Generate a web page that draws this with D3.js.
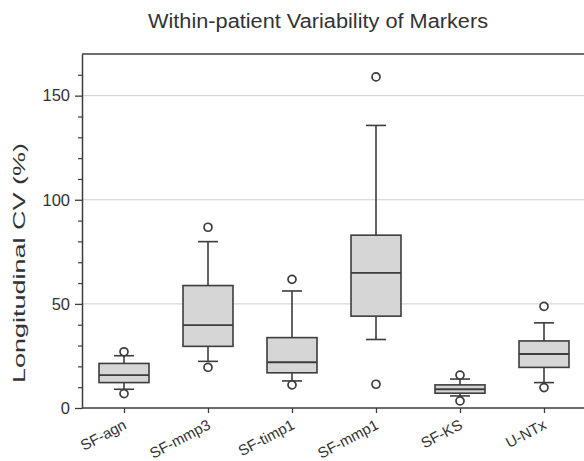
<!DOCTYPE html>
<html>
<head>
<meta charset="utf-8">
<script src="https://cdn.jsdelivr.net/npm/d3@7"></script>
<style>
  html, body { margin: 0; padding: 0; background: #fff; }
  svg { display: block; }
  text { font-family: "Liberation Sans", Arial, sans-serif; fill: #333; }
</style>
</head>
<body>
<svg id="chart" width="584" height="461"></svg>
<script>
// Box-plot summaries per marker (CV, %)
const markers    = ["SF-agn", "SF-mmp3", "SF-timp1", "SF-mmp1", "SF-KS", "U-NTx"];
const q1         = [12.2, 29.6, 16.9, 44.1,  7.1, 19.5];
const medians    = [15.8, 39.8, 22.0, 64.9,  9.0, 25.9];
const q3         = [21.4, 58.8, 33.8, 83.0, 11.1, 32.2];
const whiskerLo  = [ 9.0, 22.4, 13.0, 32.9,  5.8, 12.2];
const whiskerHi  = [25.1, 79.9, 56.2, 135.7, 13.9, 40.9];
const outlierLo  = [ 6.9, 19.5, 11.1, 11.4,  3.4,  9.8];
const outlierHi  = [27.0, 86.8, 61.8, 159.0, 15.8, 48.8];
const majorTicks = [0, 50, 100, 150];
const minorTicks = [10, 20, 30, 40, 60, 70, 80, 90, 110, 120, 130, 140, 160];

const svg = d3.select("#chart");
const margin = { left: 82, right: -2, top: 54, bottom: 53 };
const W = 584, H = 461;
const x0 = margin.left, x1 = W - margin.right;
const y0 = H - margin.bottom, yTop = margin.top;

const x = d3.scalePoint().domain(markers).range([x0, x1]).padding(0.5);
const y = d3.scaleLinear().domain([0, 170]).range([y0, yTop]);

const ink = "#3d3d3d";

// gridlines
svg.append("g").selectAll("line")
  .data(majorTicks.filter(d => d > 0))
  .join("line")
  .attr("x1", x0).attr("x2", x1)
  .attr("y1", d => y(d)).attr("y2", d => y(d))
  .attr("stroke", "#cfcfcf").attr("stroke-width", 1);

// top edge of the frame
svg.append("line").attr("x1", x0).attr("x2", x1).attr("y1", yTop).attr("y2", yTop)
  .attr("stroke", ink).attr("stroke-width", 1.5);

// y axis
const yAxis = svg.append("g").attr("transform", `translate(${x0},0)`)
  .call(d3.axisLeft(y).tickValues(majorTicks).tickSize(7).tickPadding(5).tickSizeOuter(0));
yAxis.select(".domain").attr("stroke", ink).attr("stroke-width", 1.5);
yAxis.selectAll(".tick line").attr("stroke", ink).attr("stroke-width", 1.3);
yAxis.selectAll(".tick text").style("font-size", "16.5px").attr("fill", "#333");
svg.append("g").attr("transform", `translate(${x0},0)`)
  .call(d3.axisLeft(y).tickValues(minorTicks).tickSize(4).tickFormat(""))
  .call(g => g.select(".domain").remove())
  .selectAll(".tick line").attr("stroke", ink).attr("stroke-width", 1.2);

// x axis
const xAxis = svg.append("g").attr("transform", `translate(0,${y0})`)
  .call(d3.axisBottom(x).tickSize(5).tickSizeOuter(0).tickPadding(6));
xAxis.select(".domain").attr("stroke", ink).attr("stroke-width", 1.5)
  .attr("d", `M${x0},0H${x1}`);
xAxis.selectAll(".tick line").attr("stroke", ink).attr("stroke-width", 1.3);
xAxis.selectAll(".tick text")
  .style("font-size", "15px")
  .attr("text-anchor", "end")
  .attr("dy", 0)
  .attr("y", 0).attr("x", 0)
  .attr("transform", "translate(3,20) rotate(-28)");

// boxes
const boxW = 50, capW = 20, r = 4;
const groups = svg.append("g").selectAll("g")
  .data(markers.map((m, i) => ({ m, i })))
  .join("g")
  .attr("transform", d => `translate(${x(d.m)},0)`);

groups.append("line")
  .attr("y1", d => y(whiskerLo[d.i])).attr("y2", d => y(q1[d.i]))
  .attr("stroke", ink).attr("stroke-width", 1.6);
groups.append("line")
  .attr("y1", d => y(q3[d.i])).attr("y2", d => y(whiskerHi[d.i]))
  .attr("stroke", ink).attr("stroke-width", 1.6);
groups.append("line")
  .attr("x1", -capW / 2).attr("x2", capW / 2)
  .attr("y1", d => y(whiskerLo[d.i])).attr("y2", d => y(whiskerLo[d.i]))
  .attr("stroke", ink).attr("stroke-width", 1.6);
groups.append("line")
  .attr("x1", -capW / 2).attr("x2", capW / 2)
  .attr("y1", d => y(whiskerHi[d.i])).attr("y2", d => y(whiskerHi[d.i]))
  .attr("stroke", ink).attr("stroke-width", 1.6);
groups.append("rect")
  .attr("x", -boxW / 2).attr("width", boxW)
  .attr("y", d => y(q3[d.i]))
  .attr("height", d => y(q1[d.i]) - y(q3[d.i]))
  .attr("fill", "#d6d6d6").attr("stroke", ink).attr("stroke-width", 1.6);
groups.append("line")
  .attr("x1", -boxW / 2).attr("x2", boxW / 2)
  .attr("y1", d => y(medians[d.i])).attr("y2", d => y(medians[d.i]))
  .attr("stroke", ink).attr("stroke-width", 1.9);
groups.append("circle")
  .attr("r", r).attr("cy", d => y(outlierLo[d.i]))
  .attr("fill", "#fff").attr("stroke", ink).attr("stroke-width", 1.7);
groups.append("circle")
  .attr("r", r).attr("cy", d => y(outlierHi[d.i]))
  .attr("fill", "#fff").attr("stroke", ink).attr("stroke-width", 1.7);

// title
svg.append("text")
  .attr("x", 318).attr("y", 28)
  .attr("text-anchor", "middle")
  .attr("textLength", 340).attr("lengthAdjust", "spacingAndGlyphs")
  .style("font-size", "19.5px")
  .text("Within-patient Variability of Markers");

// y label
svg.append("text")
  .attr("transform", `translate(25,263) rotate(-90)`)
  .attr("text-anchor", "middle")
  .attr("textLength", 240).attr("lengthAdjust", "spacingAndGlyphs")
  .style("font-size", "16.5px")
  .text("Longitudinal  CV (%)");
</script>
</body>
</html>
